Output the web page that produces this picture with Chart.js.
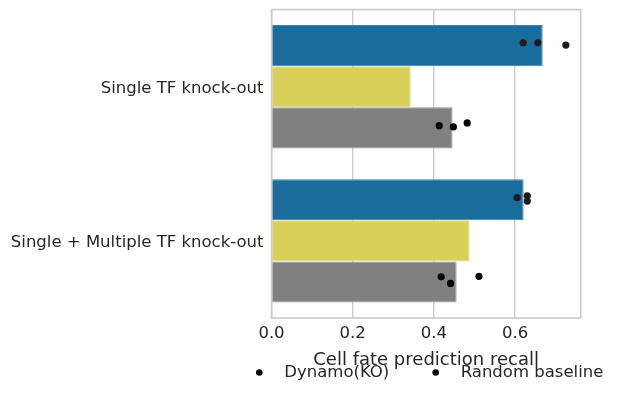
<!DOCTYPE html>
<html>
<head>
<meta charset="utf-8">
<script src="https://cdn.jsdelivr.net/npm/chart.js@4/dist/chart.umd.min.js"></script>
<style>
  html, body { margin: 0; padding: 0; background: #ffffff; }
  #wrap { width: 620px; height: 398px; }
</style>
</head>
<body>
<div id="wrap"><canvas id="c" width="620" height="398"></canvas></div>
<script>
// ---- data ----
const categories = ['Single TF knock-out', 'Single + Multiple TF knock-out'];
const dynamoBars = [0.668, 0.621];
const secondBars = [0.343, 0.488];
const randomBars = [0.446, 0.456];

// individual replicate values (x) and their swarm position (y, in category index units)
const dynamoPointsX = [0.620, 0.656, 0.725, 0.605, 0.630, 0.630];
const dynamoPointsY = [-0.285, -0.285, -0.270, 0.720, 0.708, 0.742];
const randomPointsX = [0.413, 0.448, 0.482, 0.418, 0.441, 0.511];
const randomPointsY = [0.253, 0.261, 0.235, 1.233, 1.276, 1.230];

const xTickValues = [0, 0.2, 0.4, 0.6];
const xMax = 0.7616;
const xTitle = 'Cell fate prediction recall';
const legendLabels = ['Dynamo(KO)', 'Random baseline'];

// ---- styling ----
const FONT = '"DejaVu Sans", "Liberation Sans", sans-serif';
const TEXT = '#262626';
const GRID = '#cccccc';

const barData = vals => vals.map((v, i) => ({ x: v, y: i }));
const toPoints = (xs, ys) => xs.map((x, i) => ({ x: x, y: ys[i] }));

const framePlugin = {
  id: 'frame',
  afterDatasetsDraw(chart) {
    const { ctx, chartArea: a } = chart;
    ctx.save();
    ctx.strokeStyle = GRID;
    ctx.lineWidth = 1.7;
    ctx.strokeRect(a.left, a.top, a.right - a.left, a.bottom - a.top);
    ctx.restore();
  }
};

const legendPlugin = {
  id: 'dotLegend',
  afterDraw(chart) {
    const { ctx } = chart;
    const startX = 259.3, y = 372.5, step = 176.4, textGap = 25;
    ctx.save();
    ctx.font = '16.5px ' + FONT;
    ctx.textBaseline = 'middle';
    ctx.textAlign = 'left';
    legendLabels.forEach((label, i) => {
      const mx = startX + i * step;
      ctx.beginPath();
      ctx.fillStyle = '#000000';
      ctx.arc(mx, y, 3.3, 0, Math.PI * 2);
      ctx.fill();
      ctx.fillStyle = TEXT;
      ctx.fillText(label, mx + textGap, y);
    });
    ctx.restore();
  }
};

const barCommon = { type: 'bar', indexAxis: 'y', xAxisID: 'x', yAxisID: 'y', barPercentage: 1, categoryPercentage: 0.8, borderWidth: 1, order: 2 };
const dotCommon = { type: 'scatter', xAxisID: 'x', yAxisID: 'y', pointRadius: 3.6, borderWidth: 0, order: 1 };

new Chart(document.getElementById('c'), {
  type: 'bar',
  data: {
    datasets: [
      Object.assign({}, barCommon, { label: 'Dynamo(KO)', data: barData(dynamoBars), backgroundColor: '#186d9d', borderColor: '#3f83ad' }),
      Object.assign({}, barCommon, { label: '', data: barData(secondBars), backgroundColor: '#d9d05a', borderColor: '#e4dd8c' }),
      Object.assign({}, barCommon, { label: 'Random baseline', data: barData(randomBars), backgroundColor: '#808080', borderColor: '#999999' }),
      Object.assign({}, dotCommon, { label: 'Dynamo(KO)', data: toPoints(dynamoPointsX, dynamoPointsY), backgroundColor: '#1c1c1c' }),
      Object.assign({}, dotCommon, { label: 'Random baseline', data: toPoints(randomPointsX, randomPointsY), backgroundColor: '#050505' })
    ]
  },
  options: {
    responsive: false,
    animation: false,
    events: [],
    layout: { padding: { left: 0, right: 39.3, top: 9.6, bottom: 0 } },
    scales: {
      x: {
        type: 'linear', position: 'bottom', min: 0, max: xMax, offset: false,
        afterBuildTicks: s => { s.ticks = xTickValues.map(v => ({ value: v })); },
        afterFit: s => { s.height = 80; s.paddingLeft = 0; s.paddingRight = 0; },
        ticks: { color: TEXT, font: { family: FONT, size: 16.5 }, padding: 6, callback: v => Number(v).toFixed(1) },
        grid: { color: GRID, lineWidth: 1.4, drawTicks: false, offset: false },
        border: { display: false },
        title: { display: true, text: xTitle, color: TEXT, font: { family: FONT, size: 18 }, padding: { top: 0, bottom: 27 } }
      },
      y: {
        type: 'linear', position: 'left', min: -0.5, max: 1.5, reverse: true, offset: false,
        afterBuildTicks: s => { s.ticks = categories.map((c, i) => ({ value: i })); },
        afterFit: s => { s.width = 271.5; s.paddingTop = 0; s.paddingBottom = 0; },
        ticks: { color: TEXT, font: { family: FONT, size: 16.5 }, padding: 8, labelOffset: 2, callback: v => categories[v] },
        grid: { display: false, drawTicks: false, offset: false },
        border: { display: false }
      }
    },
    plugins: { legend: { display: false }, tooltip: { enabled: false } }
  },
  plugins: [framePlugin, legendPlugin]
});
</script>
</body>
</html>
